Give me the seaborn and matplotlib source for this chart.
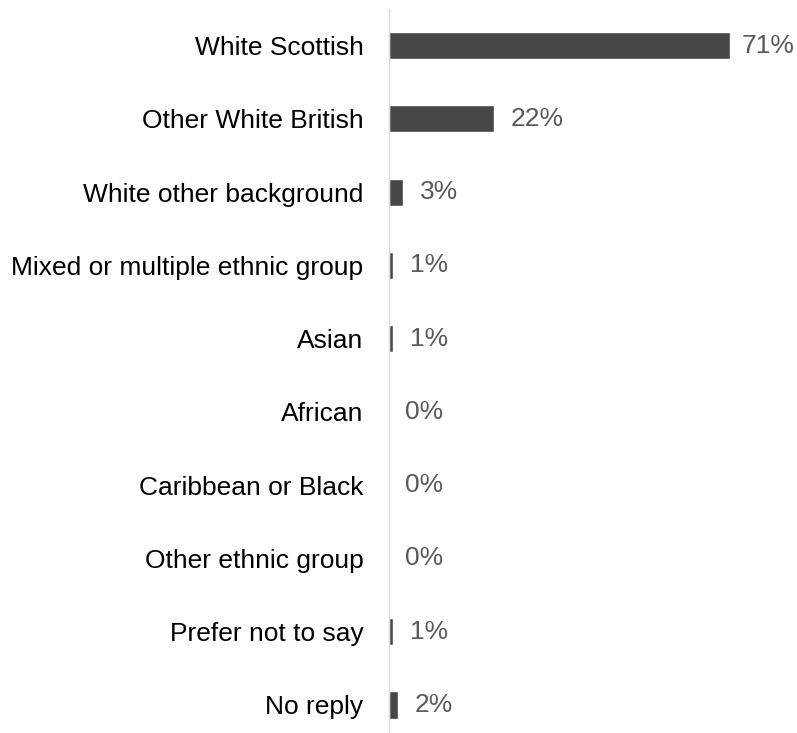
import matplotlib
matplotlib.use("Agg")
import matplotlib.pyplot as plt
import seaborn as sns
import pandas as pd

categories = ["White Scottish", "Other White British", "White other background",
              "Mixed or multiple ethnic group", "Asian", "African",
              "Caribbean or Black", "Other ethnic group", "Prefer not to say", "No reply"]
values = [71.0, 21.9, 3.0, 0.9, 0.9, 0.0, 0.0, 0.0, 0.9, 2.0]
labels = ["71%", "22%", "3%", "1%", "1%", "0%", "0%", "0%", "1%", "2%"]

sns.set_style("white")
plt.rcParams['font.family'] = ['Liberation Sans', 'DejaVu Sans']

W, H = 797, 733
fig = plt.figure(figsize=(W / 100, H / 100), dpi=100)
left = 388.5 / W
bottom_px = 741.6
ax = fig.add_axes([left, 1 - bottom_px / H, 1 - left, (bottom_px - 9) / H])

df = pd.DataFrame({"cat": categories, "val": values})
sns.barplot(data=df, y="cat", x="val", orient="h", color="#464646",
            saturation=1, width=0.37, ax=ax)

ax.set_xlim(0, (W - 388.5) / 4.81)
ax.set_ylim(9.5, -0.5)
ax.set_xlabel("")
ax.set_ylabel("")
ax.set_xticks([])
for s in ["top", "right", "bottom"]:
    ax.spines[s].set_visible(False)
ax.spines["left"].set_color("#d9d9d9")
ax.spines["left"].set_linewidth(1.0)
ax.tick_params(axis="y", length=0, pad=18, labelsize=19, labelcolor="#000000")

for bar, lab, v in zip(ax.patches, labels, values):
    pad = 12 if v > 60 else 17
    ax.annotate(lab, (bar.get_width(), bar.get_y() + bar.get_height() / 2),
                xytext=(pad * 0.72, 0), textcoords="offset points",
                va="center", ha="left", fontsize=19, color="#595959")

fig.savefig("out.png", dpi=100)
